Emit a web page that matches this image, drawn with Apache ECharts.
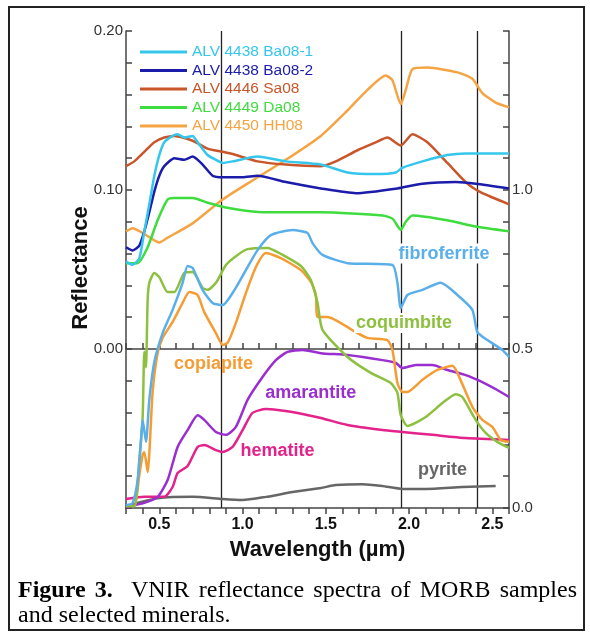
<!DOCTYPE html>
<html>
<head>
<meta charset="utf-8">
<script src="https://cdn.jsdelivr.net/npm/echarts@6/dist/echarts.min.js"></script>
<style>
html, body { margin: 0; padding: 0; background: #fff; }
#frame { position: absolute; left: 8px; top: 6px; width: 573px; height: 621px; border: 2px solid #222; }
#chart { position: absolute; left: 0; top: 0; width: 590px; height: 634px; }
#caption { position: absolute; left: 18px; top: 577px; width: 559px; font-family: "Liberation Serif", "Times New Roman", serif; font-size: 24px; line-height: 25px; color: #000; }
#caption .l1 { text-align: justify; text-align-last: justify; }
</style>
</head>
<body>
<div id="frame"></div>
<div id="chart"></div>
<div id="caption">
	<div class="l1"><b>Figure 3.</b>&nbsp; VNIR reflectance spectra of MORB samples</div>
	<div>and selected minerals.</div>
</div>
<script>
// wavelength (um), reflectance -- MORB samples (left axis)
var ba081 = [[0.30,0.055],[0.34,0.053],[0.38,0.057],[0.41,0.074],[0.44,0.091],[0.47,0.109],[0.50,0.122],[0.53,0.130],[0.58,0.134],[0.61,0.135],[0.65,0.133],[0.70,0.134],[0.73,0.130],[0.79,0.122],[0.84,0.119],[0.88,0.117],[0.94,0.118],[1.09,0.121],[1.26,0.118],[1.47,0.116],[1.63,0.111],[1.80,0.110],[1.92,0.111],[1.96,0.114],[2.08,0.118],[2.23,0.122],[2.34,0.123],[2.60,0.123]];
var ba082 = [[0.30,0.064],[0.34,0.062],[0.38,0.065],[0.41,0.074],[0.44,0.086],[0.47,0.099],[0.50,0.109],[0.53,0.115],[0.59,0.120],[0.65,0.119],[0.70,0.121],[0.76,0.116],[0.82,0.109],[0.88,0.108],[1.00,0.108],[1.09,0.109],[1.26,0.105],[1.47,0.101],[1.68,0.098],[1.93,0.101],[2.08,0.104],[2.28,0.105],[2.40,0.104],[2.60,0.101]];
var sa08 = [[0.30,0.115],[0.35,0.118],[0.41,0.124],[0.47,0.130],[0.53,0.133],[0.59,0.134],[0.70,0.131],[0.79,0.126],[0.88,0.124],[0.96,0.122],[1.09,0.118],[1.26,0.116],[1.47,0.115],[1.56,0.118],[1.69,0.125],[1.80,0.130],[1.87,0.133],[1.95,0.128],[2.02,0.135],[2.11,0.130],[2.23,0.117],[2.35,0.104],[2.44,0.098],[2.60,0.091]];
var da08 = [[0.30,0.054],[0.37,0.054],[0.43,0.064],[0.49,0.081],[0.55,0.094],[0.59,0.095],[0.70,0.095],[0.79,0.092],[0.90,0.089],[1.02,0.087],[1.15,0.086],[1.30,0.086],[1.47,0.086],[1.84,0.084],[1.90,0.082],[1.95,0.075],[1.98,0.080],[2.02,0.084],[2.23,0.081],[2.40,0.077],[2.60,0.074]];
var hh08 = [[0.30,0.074],[0.34,0.076],[0.40,0.073],[0.46,0.069],[0.50,0.067],[0.55,0.070],[0.70,0.079],[0.88,0.094],[1.06,0.106],[1.26,0.119],[1.47,0.134],[1.63,0.150],[1.75,0.163],[1.86,0.172],[1.90,0.169],[1.95,0.154],[1.98,0.163],[2.02,0.176],[2.11,0.177],[2.29,0.174],[2.38,0.170],[2.44,0.161],[2.52,0.155],[2.60,0.152]];

// minerals (right axis)
var fibroferrite = [[0.30,0.009],[0.34,0.016],[0.37,0.088],[0.39,0.214],[0.40,0.277],[0.42,0.208],[0.44,0.340],[0.47,0.459],[0.52,0.550],[0.58,0.623],[0.64,0.708],[0.67,0.761],[0.70,0.755],[0.76,0.686],[0.82,0.645],[0.88,0.638],[0.94,0.676],[1.02,0.748],[1.09,0.811],[1.17,0.858],[1.30,0.874],[1.39,0.865],[1.42,0.833],[1.48,0.796],[1.63,0.770],[1.90,0.764],[1.93,0.708],[1.95,0.629],[1.99,0.670],[2.08,0.686],[2.19,0.708],[2.29,0.670],[2.38,0.623],[2.41,0.553],[2.47,0.528],[2.56,0.497],[2.60,0.475]];
var coquimbite = [[0.30,0.006],[0.35,0.006],[0.38,0.151],[0.40,0.286],[0.41,0.491],[0.42,0.443],[0.43,0.654],[0.44,0.708],[0.47,0.739],[0.50,0.726],[0.55,0.679],[0.59,0.679],[0.65,0.739],[0.70,0.742],[0.76,0.692],[0.79,0.686],[0.84,0.708],[0.90,0.764],[0.96,0.792],[1.03,0.814],[1.15,0.818],[1.23,0.799],[1.35,0.761],[1.41,0.717],[1.45,0.645],[1.48,0.560],[1.63,0.475],[1.77,0.425],[1.89,0.393],[1.93,0.362],[1.95,0.292],[1.99,0.258],[2.10,0.286],[2.20,0.330],[2.28,0.358],[2.32,0.349],[2.40,0.277],[2.46,0.236],[2.53,0.208],[2.60,0.189]];
var copiapite = [[0.30,0.006],[0.35,0.006],[0.38,0.104],[0.40,0.167],[0.41,0.176],[0.43,0.113],[0.46,0.365],[0.49,0.487],[0.52,0.535],[0.58,0.585],[0.64,0.645],[0.68,0.679],[0.73,0.670],[0.77,0.616],[0.84,0.550],[0.88,0.513],[0.91,0.519],[0.96,0.582],[1.02,0.676],[1.08,0.758],[1.14,0.802],[1.23,0.786],[1.35,0.748],[1.41,0.711],[1.44,0.670],[1.45,0.601],[1.51,0.601],[1.68,0.553],[1.75,0.535],[1.87,0.528],[1.90,0.497],[1.93,0.393],[1.96,0.365],[1.99,0.365],[2.08,0.403],[2.17,0.434],[2.26,0.447],[2.29,0.425],[2.38,0.318],[2.44,0.277],[2.50,0.255],[2.55,0.214],[2.60,0.208]];
var amarantite = [[0.30,0.003],[0.41,0.016],[0.49,0.035],[0.55,0.088],[0.61,0.192],[0.67,0.245],[0.73,0.292],[0.77,0.277],[0.84,0.239],[0.90,0.230],[0.96,0.255],[1.03,0.340],[1.12,0.412],[1.20,0.465],[1.27,0.491],[1.36,0.497],[1.47,0.487],[1.63,0.481],[1.84,0.465],[1.92,0.456],[1.96,0.440],[2.04,0.450],[2.14,0.450],[2.23,0.434],[2.34,0.418],[2.44,0.396],[2.53,0.371],[2.60,0.349]];
var hematite = [[0.30,0.028],[0.41,0.035],[0.53,0.035],[0.58,0.066],[0.61,0.110],[0.67,0.132],[0.73,0.192],[0.77,0.198],[0.84,0.182],[0.88,0.176],[0.94,0.192],[1.00,0.245],[1.06,0.299],[1.14,0.311],[1.21,0.308],[1.33,0.299],[1.47,0.283],[1.63,0.261],[1.84,0.245],[1.96,0.239],[2.14,0.230],[2.34,0.220],[2.60,0.214]];
var pyrite = [[0.30,0.006],[0.37,0.016],[0.49,0.031],[0.70,0.035],[0.88,0.028],[1.00,0.025],[1.14,0.035],[1.30,0.050],[1.47,0.063],[1.56,0.072],[1.72,0.075],[1.84,0.069],[1.96,0.060],[2.10,0.060],[2.32,0.066],[2.52,0.069]];

var bandLines = [0.87, 1.95, 2.41];

var sampleNames = ["ALV 4438 Ba08-1", "ALV 4438 Ba08-2", "ALV 4446 Sa08", "ALV 4449 Da08", "ALV 4450 HH08"];
var sampleColors = ["#36C6EC", "#1C1CAA", "#C9562A", "#3EDC3E", "#F5A444"];

var chart = echarts.init(document.getElementById("chart"));
var font = "Liberation Sans, Arial, sans-serif";

function sample(i, data) {
	return {
		name: sampleNames[i], type: "line", yAxisIndex: 0, data: data,
		showSymbol: false, smooth: 0.2, z: 3,
		lineStyle: { width: 2.5, color: sampleColors[i] },
		itemStyle: { color: sampleColors[i] }
	};
}

function mineral(name, data, color, at, bg) {
	return {
		name: name, type: "line", yAxisIndex: 1, data: data,
		showSymbol: false, smooth: 0.2, z: 3,
		lineStyle: { width: 2.5, color: color },
		itemStyle: { color: color },
		markPoint: {
			symbol: "circle", symbolSize: 1, silent: true, z: 10,
			itemStyle: { color: "rgba(0,0,0,0)" },
			label: {
				show: true, position: "inside", formatter: name,
				color: color, fontSize: 18, fontWeight: "bold", fontFamily: font,
				backgroundColor: bg ? "#fff" : "transparent", padding: [1, 2]
			},
			data: [{ coord: at }]
		}
	};
}

var axisLineStyle = { color: "#444", width: 1.5 };

var option = {
	animation: false,
	grid: { left: 126, right: 81, top: 31, bottom: 126 },
	graphic: [{
		type: "text", x: 81, y: 268, rotation: Math.PI / 2,
		style: {
			text: "Reflectance", fill: "#111", align: "center", verticalAlign: "middle",
			font: "bold 22px " + font
		}
	}],
	legend: {
		orient: "vertical", left: 140, top: 44, padding: 0,
		itemWidth: 47, itemHeight: 3, itemGap: 2.5, icon: "rect",
		textStyle: { fontSize: 15.5, fontFamily: font, lineHeight: 16 },
		data: sampleNames.map(function (n, i) {
			return { name: n, textStyle: { color: sampleColors[i] } };
		})
	},
	xAxis: [{
		type: "value", min: 0.3, max: 2.6, interval: 0.1,
		name: "Wavelength (µm)", nameLocation: "middle", nameGap: 31,
		nameTextStyle: { fontSize: 22, fontWeight: "bold", fontFamily: font, color: "#111" },
		axisLine: { show: true, lineStyle: axisLineStyle },
		axisTick: { show: true, inside: true, length: 6, lineStyle: axisLineStyle },
		splitLine: { show: false },
		axisLabel: {
			margin: 9, fontSize: 16, fontWeight: "bold", fontFamily: font, color: "#111",
			formatter: function (v) {
				return Math.round(v * 10) % 5 === 0 ? v.toFixed(1) : "";
			}
		}
	}, {
		type: "value", position: "top", min: 0.3, max: 2.6, interval: 0.1,
		axisLine: { show: true, lineStyle: axisLineStyle },
		axisTick: { show: true, inside: true, length: 6, lineStyle: axisLineStyle },
		axisLabel: { show: false }, splitLine: { show: false }
	}],
	yAxis: [{
		type: "value", position: "left", min: -0.1, max: 0.2, interval: 0.02,
		axisLine: { show: true, lineStyle: axisLineStyle },
		axisTick: { show: true, inside: true, length: 6, lineStyle: axisLineStyle },
		splitLine: { show: false },
		axisLabel: {
			margin: 3, fontSize: 15, fontFamily: font, color: "#333",
			formatter: function (v) {
				var k = Math.round(v * 100);
				return (k >= 0 && k % 10 === 0) ? (k / 100).toFixed(2) : "";
			}
		}
	}, {
		type: "value", position: "right", min: 0, max: 1.5, interval: 0.1,
		axisLine: { show: true, lineStyle: axisLineStyle },
		axisTick: { show: true, inside: true, length: 6, lineStyle: axisLineStyle },
		splitLine: { show: false },
		axisLabel: {
			margin: 3, fontSize: 15, fontFamily: font, color: "#333",
			formatter: function (v) {
				var k = Math.round(v * 10);
				return (k % 5 === 0 && k < 15) ? (k / 10).toFixed(1) : "";
			}
		}
	}],
	series: [
		{
			name: "bands", type: "line", yAxisIndex: 0, data: [], z: 1,
			markLine: {
				silent: true, symbol: ["none", "none"], z: 1,
				label: { show: false },
				lineStyle: { color: "#222", width: 1.3, type: "solid" },
				data: bandLines.map(function (x) { return { xAxis: x }; })
			}
		},
		mineral("pyrite", pyrite, "#666666", [2.20, 0.119], false),
		mineral("hematite", hematite, "#E3228C", [1.21, 0.179], false),
		mineral("amarantite", amarantite, "#9A2ECF", [1.41, 0.362], false),
		mineral("copiapite", copiapite, "#F59C34", [0.826, 0.453], false),
		mineral("coquimbite", coquimbite, "#8CC03E", [1.97, 0.582], true),
		mineral("fibroferrite", fibroferrite, "#5AAFEA", [2.21, 0.80], true),
		sample(4, hh08),
		sample(3, da08),
		sample(2, sa08),
		sample(1, ba082),
		sample(0, ba081)
	]
};

chart.setOption(option);
</script>
</body>
</html>
